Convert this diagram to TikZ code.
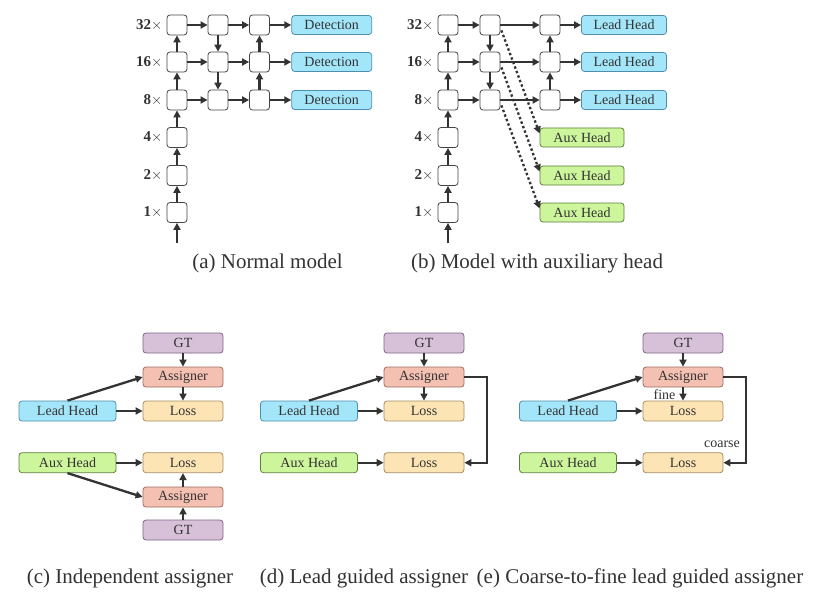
\documentclass[tikz,border=0pt]{standalone}
\usepackage{fontspec}
\setmainfont{LiberationSerif}[Extension=.ttf, UprightFont=*-Regular, BoldFont=*-Bold, ItalicFont=*-Italic, BoldItalicFont=*-BoldItalic]
\usetikzlibrary{arrows.meta,positioning}

\definecolor{leadfill}{HTML}{A4E6F9}
\definecolor{leadline}{HTML}{4D8FAE}
\definecolor{auxfill}{HTML}{CDF59C}
\definecolor{auxline}{HTML}{5E7F3C}
\definecolor{gtfill}{HTML}{D6C1D9}
\definecolor{gtline}{HTML}{806585}
\definecolor{asgfill}{HTML}{F3C0B2}
\definecolor{asgline}{HTML}{A06E62}
\definecolor{lossfill}{HTML}{FCE4B4}
\definecolor{lossline}{HTML}{A58E62}
\definecolor{boxline}{HTML}{444444}
\definecolor{inkgray}{HTML}{333333}

\tikzset{
  cell/.style={minimum width=20pt, minimum height=20pt, fill=white},
  lead/.style={minimum width=85pt, minimum height=19pt, fill=leadfill, draw=leadline},
  aux/.style={minimum width=84pt, minimum height=19pt, fill=auxfill, draw=auxline},
  head/.style={minimum width=97pt, minimum height=20pt},
  block/.style={minimum width=80pt, minimum height=20pt},
  gt/.style={block, fill=gtfill, draw=gtline},
  asg/.style={block, fill=asgfill, draw=asgline},
  loss/.style={block, fill=lossfill, draw=lossline},
  scalelbl/.style={draw=none, font=\fontsize{15}{17}\selectfont\bfseries},
  caption/.style={draw=none, font=\fontsize{21}{24}\selectfont},
  lbl/.style={draw=none},
  arr/.style={-{Triangle[length=7pt,width=7pt]}, line width=2.3pt, draw=inkgray},
  dotarr/.style={arr, dash pattern=on 2.4pt off 2.4pt}
}

\begin{document}
\begin{tikzpicture}[x=1pt, y=-1pt, every node/.style={rounded corners=3pt, draw=boxline, line width=0.8pt, text=inkgray, inner sep=0pt, font=\fontsize{14}{16}\selectfont}]
\fill[white] (0,0) rectangle (829,596);
\useasboundingbox (0,0) rectangle (829,596);

% (a) normal model
\foreach \c/\x in {1/177,2/218,3/259.5}
  \foreach \r/\y in {1/25,2/62,3/100}
    \node[cell] (a\c\r) at (\x,\y) {};
\node[cell] (a14) at (177,137.5) {};
\node[cell] (a15) at (177,175.5) {};
\node[cell] (a16) at (177,212.5) {};
\foreach \r/\y in {1/25,2/62,3/100}
  \node[lead, minimum width=80pt] (det\r) at (331.7,\y) {Detection};
\foreach \r/\t in {1/32,2/16,3/8,4/4,5/2,6/1}
  \node[scalelbl, left=4pt of a1\r] {\t$\times$};
\coordinate (ain) at (177,243);

\foreach \r in {1,2,3} {
  \draw[arr] (a1\r) -- (a2\r);
  \draw[arr] (a2\r) -- (a3\r);
  \draw[arr] (a3\r) -- (det\r);
}
\draw[arr] (ain) -- (a16);
\draw[arr] (a16) -- (a15);
\draw[arr] (a15) -- (a14);
\draw[arr] (a14) -- (a13);
\draw[arr] (a13) -- (a12);
\draw[arr] (a12) -- (a11);
\draw[arr] (a21) -- (a22);
\draw[arr] (a22) -- (a23);
\draw[arr] (a33) -- (a32);
\draw[arr] (a32) -- (a31);

\node[caption] (capa) at (267.5,263) {(a) Normal model};

% (b) model with auxiliary head
\foreach \c/\x in {1/448,2/490,3/550}
  \foreach \r/\y in {1/25,2/62,3/100}
    \node[cell] (b\c\r) at (\x,\y) {};
\node[cell] (b14) at (448,137.5) {};
\node[cell] (b15) at (448,175.5) {};
\node[cell] (b16) at (448,212.5) {};
\foreach \r/\y in {1/25,2/62,3/100}
  \node[lead] (blead\r) at (624,\y) {Lead Head};
\foreach \r/\y in {1/137.5,2/175.5,3/212.5}
  \node[aux] (baux\r) at (582,\y) {Aux Head};
\foreach \r/\t in {1/32,2/16,3/8,4/4,5/2,6/1}
  \node[scalelbl, left=4pt of b1\r] {\t$\times$};
\coordinate (bin) at (448,243);

\foreach \r in {1,2,3} {
  \draw[arr] (b1\r) -- (b2\r);
  \draw[arr] (b2\r) -- (b3\r);
  \draw[arr] (b3\r) -- (blead\r);
  \draw[dotarr] ([xshift=1pt,yshift=5pt]b2\r.south east) -- ([yshift=4pt]baux\r.west);
}
\draw[arr] (bin) -- (b16);
\draw[arr] (b16) -- (b15);
\draw[arr] (b15) -- (b14);
\draw[arr] (b14) -- (b13);
\draw[arr] (b13) -- (b12);
\draw[arr] (b12) -- (b11);
\draw[arr] (b21) -- (b22);
\draw[arr] (b22) -- (b23);
\draw[arr] (b33) -- (b32);
\draw[arr] (b32) -- (b31);

\node[caption] (capb) at (537,263) {(b) Model with auxiliary head};

% (c) independent assigner
\node[gt] (cgt) at (183,343) {GT};
\node[asg] (casg) at (183,377) {Assigner};
\node[loss] (closs) at (183,411) {Loss};
\node[lead, head] (clead) at (67.5,411) {Lead Head};
\node[aux, head] (caux) at (67.5,462.7) {Aux Head};
\node[loss] (closs2) at (183,462.7) {Loss};
\node[asg] (casg2) at (183,497) {Assigner};
\node[gt] (cgt2) at (183,530) {GT};

\draw[arr] (cgt) -- (casg);
\draw[arr] (casg) -- (closs);
\draw[arr] (clead) -- (closs);
\draw[arr] (clead.north) -- (casg.west);
\draw[arr] (caux) -- (closs2);
\draw[arr] (caux.south) -- (casg2.west);
\draw[arr] (casg2) -- (closs2);
\draw[arr] (cgt2) -- (casg2);

\node[caption] (capc) at (130,578) {(c) Independent assigner};

% (d) lead guided assigner
\node[gt] (dgt) at (424,343) {GT};
\node[asg] (dasg) at (424,377) {Assigner};
\node[loss] (dloss) at (424,411) {Loss};
\node[lead, head] (dlead) at (309,411) {Lead Head};
\node[aux, head] (daux) at (309,462.7) {Aux Head};
\node[loss] (dloss2) at (424,462.7) {Loss};
\coordinate (dturn) at (487,462.7);

\draw[arr] (dgt) -- (dasg);
\draw[arr] (dasg) -- (dloss);
\draw[arr] (dlead) -- (dloss);
\draw[arr] (dlead.north) -- (dasg.west);
\draw[arr] (daux) -- (dloss2);
\draw[arr] (dasg.east) -| (dturn) -- (dloss2.east);

\node[caption] (capd) at (364,578) {(d) Lead guided assigner};

% (e) coarse-to-fine lead guided assigner
\node[gt] (egt) at (683,343) {GT};
\node[asg] (easg) at (683,377) {Assigner};
\node[loss] (eloss) at (683,411) {Loss};
\node[lead, head] (elead) at (568,411) {Lead Head};
\node[aux, head] (eaux) at (568,462.7) {Aux Head};
\node[loss] (eloss2) at (683,462.7) {Loss};
\coordinate (eturn) at (746,462.7);
\node[lbl] (fine) at (664.5,395) {fine};
\node[lbl] (coarse) at (722,444) {coarse};

\draw[arr] (egt) -- (easg);
\draw[arr] (easg) -- (eloss);
\draw[arr] (elead) -- (eloss);
\draw[arr] (elead.north) -- (easg.west);
\draw[arr] (eaux) -- (eloss2);
\draw[arr] (easg.east) -| (eturn) -- (eloss2.east);

\node[caption] (cape) at (640,578) {(e) Coarse-to-fine lead guided assigner};
\end{tikzpicture}
\end{document}
